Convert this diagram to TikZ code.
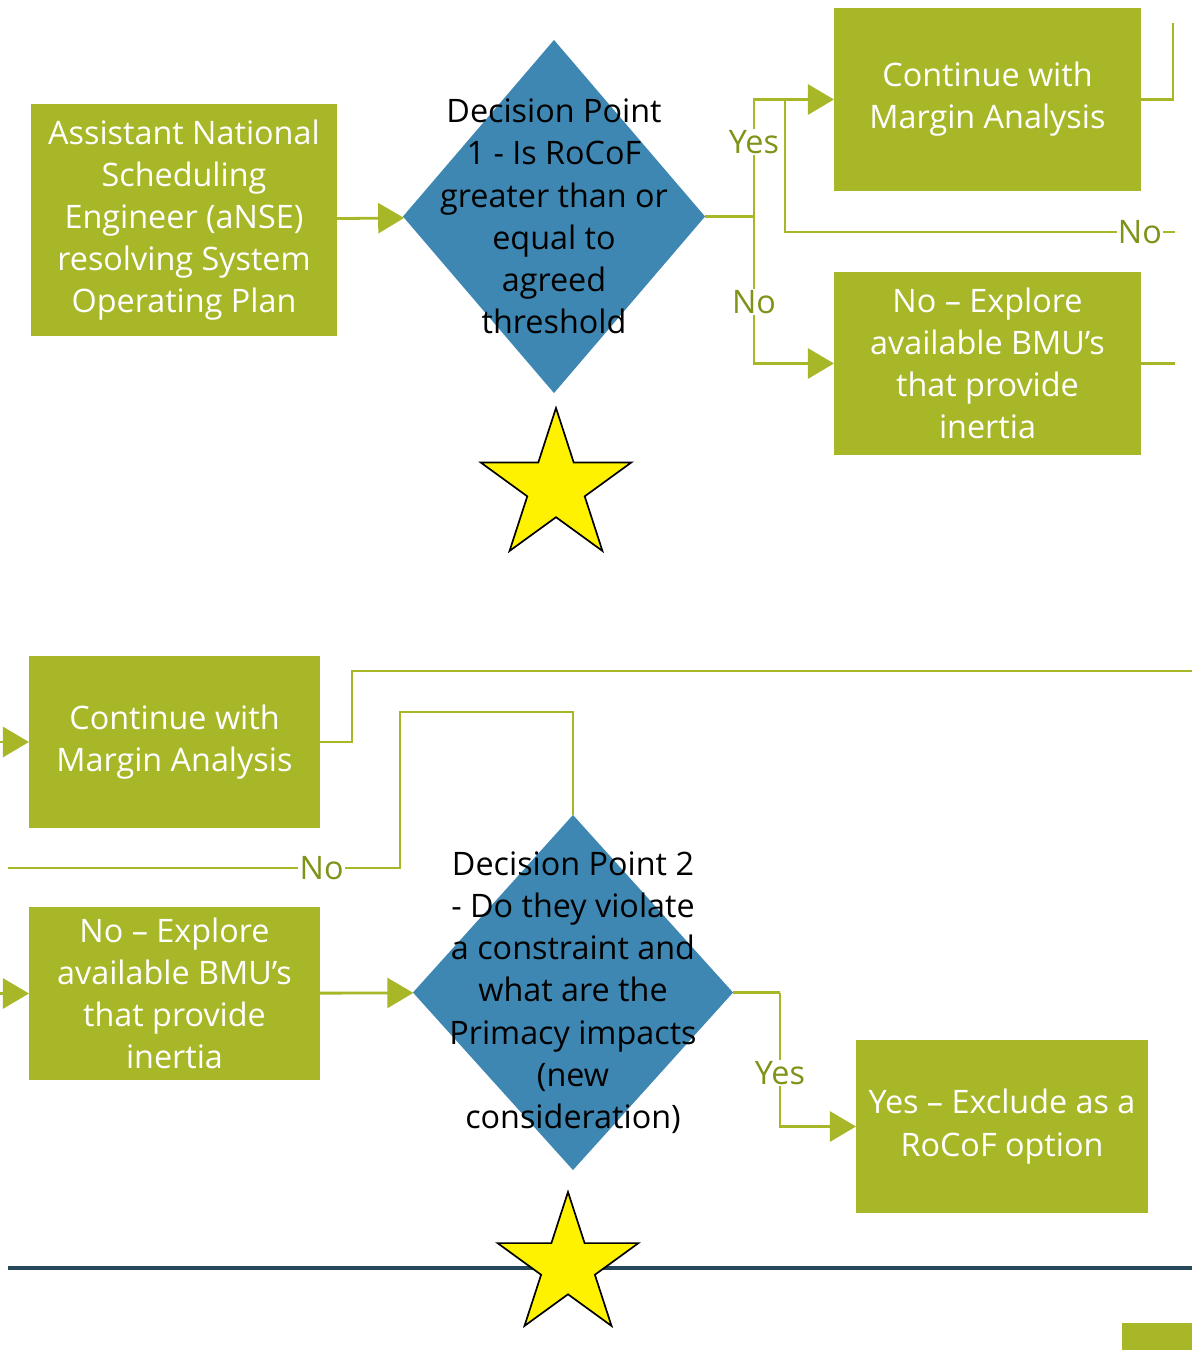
\documentclass[tikz,border=0pt]{standalone}
\usepackage{fontspec}
\setmainfont{Open Sans}
\usetikzlibrary{shapes.geometric,arrows.meta}
\definecolor{boxgreen}{RGB}{167,183,40}
\definecolor{labelgreen}{RGB}{128,146,24}
\definecolor{dpblue}{RGB}{62,135,178}
\definecolor{darkrule}{RGB}{37,72,90}
\tikzset{
	stepbox/.style={rectangle, fill=boxgreen, text=white, align=center, inner sep=0pt, outer sep=0pt, font=\fontsize{23}{30}\selectfont},
	decision/.style={diamond, fill=dpblue, inner sep=0pt, outer sep=0pt},
	dptext/.style={align=center, text=black, font=\fontsize{23}{30}\selectfont},
	link/.style={draw=boxgreen, line width=2pt},
	flow/.style={link, -{Triangle[length=0.65cm,width=0.75cm]}},
	answer/.style={fill=white, text=labelgreen, inner sep=1pt, font=\fontsize{23}{30}\selectfont},
	bigstar/.style={star, star points=5, star point ratio=2.618, draw=black, line width=1.2pt, fill=yellow, inner sep=0pt}
}
\begin{document}
\begin{tikzpicture}[x=0.025cm,y=-0.025cm]
	\useasboundingbox (0,0) rectangle (1192,1350);
	% first decision
	\node[stepbox, minimum width=7.65cm, minimum height=5.8cm] (anse) at (184,220) {Assistant National\\Scheduling\\Engineer (aNSE)\\resolving System\\Operating Plan};
	\node[decision, minimum width=7.55cm, minimum height=8.825cm] (dp1) at (554,216.5) {};
	\node[dptext] (dp1text) at (dp1) {Decision Point\\1 - Is RoCoF\\greater than or\\equal to\\agreed\\threshold};
	\node[stepbox, minimum width=7.675cm, minimum height=4.575cm] (cont1) at (987.5,99.5) {Continue with\\Margin Analysis};
	\node[stepbox, minimum width=7.675cm, minimum height=4.575cm] (explore1) at (987.5,363.5) {No -- Explore\\available BMU’s\\that provide\\inertia};
	\node[bigstar, minimum size=3.95cm] (star1) at (556,487) {};
	\coordinate (split1) at (754,216.5);
	\coordinate (nojoin1) at (785,99.5);
	\coordinate (noend1) at (1175,232);
	\coordinate (top1) at (1173,23);
	\coordinate (right1) at (1175,363.5);
	\draw[flow] (anse) -- (dp1);
	\draw[link] (dp1.east) -- (split1);
	\draw[flow] (split1) |- (cont1.west) node[answer, pos=0.32] {Yes};
	\draw[flow] (split1) |- (explore1.west) node[answer, pos=0.29] {No};
	\draw[link] (nojoin1) |- (noend1) node[answer, pos=0.955] {No};
	\draw[link] (cont1.east) -| (top1);
	\draw[link] (explore1.east) -- (right1);
	% second decision
	\node[stepbox, minimum width=7.275cm, minimum height=4.3cm] (cont2) at (174.5,742) {Continue with\\Margin Analysis};
	\node[stepbox, minimum width=7.275cm, minimum height=4.325cm] (explore2) at (174.5,993.5) {No -- Explore\\available BMU’s\\that provide\\inertia};
	\node[decision, minimum width=8cm, minimum height=8.875cm] (dp2) at (573,992.5) {};
	\node[dptext] (dp2text) at (dp2) {Decision Point 2\\- Do they violate\\a constraint and\\what are the\\Primacy impacts\\(new\\consideration)};
	\node[stepbox, minimum width=7.3cm, minimum height=4.325cm] (excl) at (1002,1126.5) {Yes -- Exclude as a\\RoCoF option};
	\coordinate (in2) at (0,742);
	\coordinate (in3) at (0,993.5);
	\coordinate (out2) at (1192,671);
	\coordinate (no2in) at (8,868);
	\coordinate (no2turn) at (400,712);
	\coordinate (yes2) at (780,992.5);
	\draw[flow] (in2) -- (cont2);
	\draw[flow] (in3) -- (explore2);
	\draw[link] (cont2.east) -- ++(32,0) |- (out2);
	\draw[link] (no2in) -| (no2turn) node[answer, pos=0.4] {No} -| (dp2.north);
	\draw[flow] (explore2) -- (dp2);
	\draw[link] (dp2.east) -- (yes2);
	\draw[flow] (yes2) |- (excl.west) node[answer, pos=0.3] {Yes};
	\coordinate (rulel) at (8,1268);
	\coordinate (ruler) at (1192,1268);
	\draw[darkrule, line width=2.2pt] (rulel) -- (ruler);
	\node[bigstar, minimum size=3.7cm] (star2) at (568,1266) {};
	\fill[boxgreen] (1122,1323) rectangle (1192,1350);
\end{tikzpicture}
\end{document}
